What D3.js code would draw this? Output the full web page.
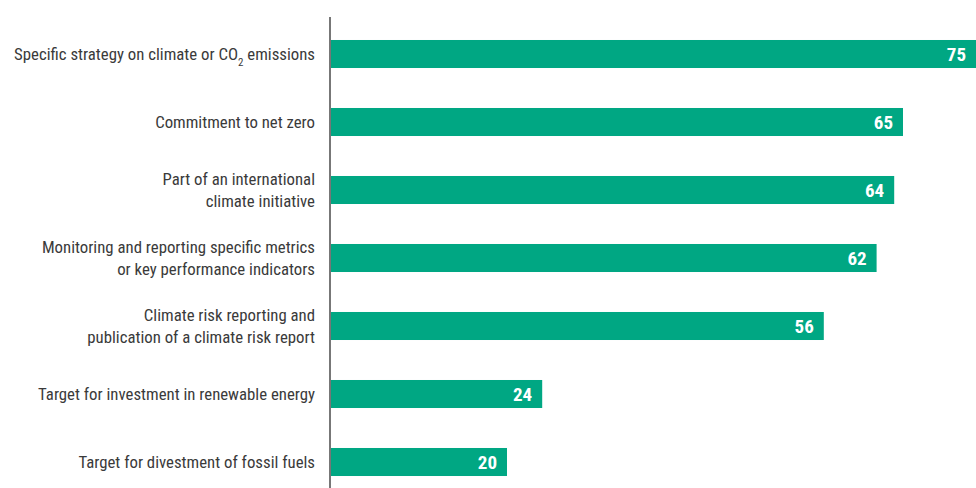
<!DOCTYPE html>
<html><head><meta charset="utf-8">
<script src="https://cdn.jsdelivr.net/npm/d3@7"></script>
<style>
html,body{margin:0;padding:0;background:#fff;}
svg{display:block;}
text{font-family:"Liberation Sans Narrow","Roboto Condensed","DejaVu Sans Condensed",sans-serif;}
</style></head>
<body><svg id="chart" width="976" height="488"></svg>
<script>
const categories = [
  ["Specific strategy on climate or CO|2| emissions"],
  ["Commitment to net zero"],
  ["Part of an international", "climate initiative"],
  ["Monitoring and reporting specific metrics", "or key performance indicators"],
  ["Climate risk reporting and", "publication of a climate risk report"],
  ["Target for investment in renewable energy"],
  ["Target for divestment of fossil fuels"]
];
const values = [75, 65, 64, 62, 56, 24, 20];
const ids = d3.range(values.length);

const svg = d3.select("#chart");
const x0 = 331;
const x = d3.scaleLinear().domain([0, 75]).range([x0, x0 + 75 * 8.8]);
const y = d3.scaleBand().domain(ids).range([20, 496]).paddingInner(0.588).paddingOuter(0.294);

svg.append("g").selectAll("rect").data(ids).join("rect")
  .attr("x", x(0)).attr("y", i => y(i))
  .attr("width", i => x(values[i]) - x(0)).attr("height", y.bandwidth())
  .attr("fill", "#00a783");

svg.append("line").attr("x1", 330).attr("x2", 330).attr("y1", 17).attr("y2", 488)
  .attr("stroke", "#555").attr("stroke-width", 1.6);

svg.append("g").selectAll("text").data(ids).join("text")
  .attr("x", i => Math.min(x(values[i]), 976) - 10)
  .attr("y", i => y(i) + y.bandwidth() / 2)
  .attr("dy", "0.36em").attr("text-anchor", "end")
  .attr("fill", "#fff").attr("font-weight", "bold").attr("font-size", 19)
  .text(i => values[i]);

const lab = svg.append("g").selectAll("text").data(ids).join("text")
  .attr("text-anchor", "end").attr("fill", "#3a3a3a").attr("font-size", 16.8);
lab.each(function(i) {
  const t = d3.select(this);
  const lines = categories[i];
  const cy = y(i) + y.bandwidth() / 2;
  lines.forEach((ln, k) => {
    const yy = cy + (k - (lines.length - 1) / 2) * 22;
    const parts = ln.split("|");
    const tl = t.append("tspan").attr("x", 315).attr("y", yy).attr("dy", "0.36em");
    if (parts.length === 1) { tl.text(ln); }
    else {
      tl.text(parts[0]);
      t.append("tspan").attr("font-size", 11).attr("dy", "0.5em").text(parts[1]);
      t.append("tspan").attr("dy", "-0.33em").text(parts[2]);
    }
  });
});
</script></body></html>
